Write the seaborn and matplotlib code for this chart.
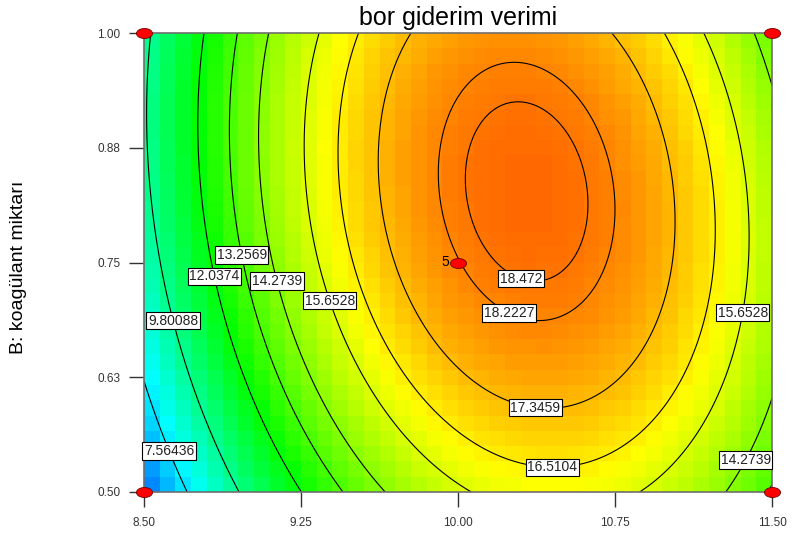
import numpy as np
import matplotlib
matplotlib.use("Agg")
import matplotlib.pyplot as plt
from matplotlib.colors import LinearSegmentedColormap
from matplotlib.markers import MarkerStyle
from matplotlib.path import Path
from matplotlib.transforms import Affine2D
import seaborn as sns

# Fitted quadratic model in coded factors A (pH) and B (coagulant dose)
intercept = 18.2
coef_linear = [2.98, 1.15]        # A, B
coef_interaction = -0.87          # AB
coef_quadratic = [-6.2, -1.55]    # A^2, B^2

ph_range = [8.5, 11.5]
dose_range = [0.5, 1.0]

contour_levels = [7.56436, 9.80088, 12.0374, 13.2569, 14.2739,
                  15.6528, 16.5104, 17.3459, 18.2227, 18.472]

# contour labels: level and approximate placement (pH, dose)
label_levels = [7.56436, 9.80088, 12.0374, 13.2569, 14.2739, 15.6528,
                18.472, 18.2227, 15.6528, 17.3459, 16.5104, 14.2739]
label_ph = [8.60, 8.65, 8.825, 8.968, 9.207, 9.393,
            10.30, 10.244, 11.37, 10.373, 10.45, 11.37]
label_dose = [0.5425, 0.687, 0.734, 0.759, 0.734, 0.709,
              0.730, 0.696, 0.695, 0.596, 0.535, 0.535]

design_ph = [8.5, 8.5, 11.5, 11.5, 10.0]
design_dose = [0.5, 1.0, 0.5, 1.0, 0.75]
center_runs = "5"

x_ticks = [8.5, 9.25, 10.0, 10.75, 11.5]
x_ticklabels = ["8.50", "9.25", "10.00", "10.75", "11.50"]
y_ticks = [0.5, 0.625, 0.75, 0.875, 1.0]
y_ticklabels = ["0.50", "0.63", "0.75", "0.88", "1.00"]

title = "bor giderim verimi"
y_title = "B: koagülant miktarı"


def response(ph, dose):
    a = (ph - 10.0) / 1.5
    b = (dose - 0.75) / 0.25
    return (intercept + coef_linear[0] * a + coef_linear[1] * b
            + coef_interaction * a * b
            + coef_quadratic[0] * a ** 2 + coef_quadratic[1] * b ** 2)


sns.set_style("white")
plt.rcParams["font.family"] = ["Liberation Sans", "DejaVu Sans"]

fig = plt.figure(figsize=(7.99, 5.33), dpi=100)
ax = fig.add_axes([144 / 799, 41 / 533, 628 / 799, 459 / 533])

# blocky colour fill
xe = np.linspace(ph_range[0], ph_range[1], 41)
ye = np.linspace(dose_range[0], dose_range[1], 31)
xc = 0.5 * (xe[:-1] + xe[1:])
yc = 0.5 * (ye[:-1] + ye[1:])
Zc = response(*np.meshgrid(xc, yc))
cmap = LinearSegmentedColormap.from_list(
    "rainbow5", ["#0000ff", "#00ffff", "#00ff00", "#ffff00", "#ff0000"])
ax.pcolormesh(xe, ye, Zc, cmap=cmap, vmin=3.8, vmax=20.4, shading="flat",
              zorder=1)

# contour lines
xf = np.linspace(ph_range[0], ph_range[1], 301)
yf = np.linspace(dose_range[0], dose_range[1], 301)
Xf, Yf = np.meshgrid(xf, yf)
Zf = response(Xf, Yf)
cs = ax.contour(Xf, Yf, Zf, levels=contour_levels, colors="black",
                linewidths=0.8, zorder=2)

# labels snapped to the nearest point of their own contour
paths = cs.get_paths()
sx = 1.0 / (ph_range[1] - ph_range[0]) * 628
sy = 1.0 / (dose_range[1] - dose_range[0]) * 459
for lev, px, py in zip(label_levels, label_ph, label_dose):
    idx = contour_levels.index(lev)
    v = paths[idx].vertices
    d = ((v[:, 0] - px) * sx) ** 2 + ((v[:, 1] - py) * sy) ** 2
    qx, qy = v[np.argmin(d)]
    ax.text(qx, qy, f"{lev:g}", ha="center", va="center", fontsize=10,
            color="#222222", zorder=5,
            bbox=dict(boxstyle="square,pad=0.12", fc="white", ec="black",
                      lw=0.8))

# design points
ellipse = MarkerStyle(Affine2D().scale(1.0, 0.62).transform_path(Path.unit_circle()))
sns.scatterplot(x=design_ph, y=design_dose, ax=ax, marker=ellipse, s=135,
                color="#ff0000", edgecolor="#700000", linewidth=0.6,
                clip_on=False, zorder=6, legend=False)
ax.annotate(center_runs, (10.0, 0.75), xytext=(-6.5, 0),
            textcoords="offset points", ha="right", va="center",
            fontsize=10, color="black", zorder=6)

ax.set_xlim(*ph_range)
ax.set_ylim(*dose_range)
ax.set_xticks(x_ticks)
ax.set_xticklabels(x_ticklabels)
ax.set_yticks(y_ticks)
ax.set_yticklabels(y_ticklabels)
ax.tick_params(axis="both", direction="out", length=11, width=1.0,
               color="#333333", labelsize=8.5, labelcolor="#333333",
               bottom=True, left=True)
ax.tick_params(axis="x", pad=7)
ax.tick_params(axis="y", pad=6)
for sp in ax.spines.values():
    sp.set_color("#6e6e6e")
    sp.set_linewidth(1.2)
    sp.set_zorder(4)

fig.text(458 / 799, 1 - 25 / 533, title, ha="center", va="baseline",
         fontsize=18, color="black")
fig.text(19 / 799, 1 - 267 / 533, y_title, rotation=90, ha="center",
         va="center", fontsize=14, color="black")

fig.savefig("out.png", dpi=100)
